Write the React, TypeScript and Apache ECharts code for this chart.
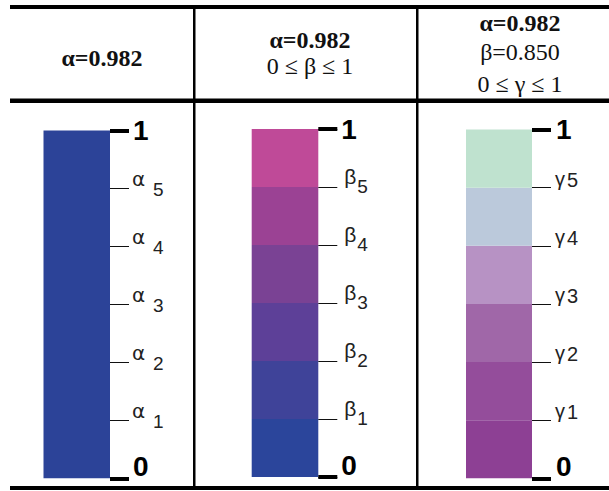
import React, { useEffect, useRef } from 'react';
import * as echarts from 'echarts';

// ---- header texts ----
const headerCol1 = ['α=0.982'];
const headerCol2 = ['α=0.982', '0 ≤ β ≤ 1'];
const headerCol3 = ['α=0.982', 'β=0.850', '0 ≤ γ ≤ 1'];

// ---- scale: 0..1 divided into six equal levels ----
const levelMax = 6;
const endLabels = ['0', '1'];

// ---- threshold symbols (bottom to top): letter + index ----
const alphaSymbols = ['α1', 'α2', 'α3', 'α4', 'α5'];
const betaSymbols = ['β1', 'β2', 'β3', 'β4', 'β5'];
const gammaSymbols = ['γ1', 'γ2', 'γ3', 'γ4', 'γ5'];

// ---- segment heights (in levels, bottom to top) ----
const alphaSegments = [6];
const betaSegments = [1, 1, 1, 1, 1, 1];
const gammaSegments = [1, 1, 1, 1, 1, 1];

// ---- segment colours (bottom to top) ----
const alphaColors = ['#2C4398'];
const betaColors = ['#2B459B', '#3F4399', '#5D4098', '#7A4294', '#9B4294', '#BF4A98'];
const gammaColors = ['#8D4094', '#944D9B', '#A067A8', '#B792C4', '#BBC9DB', '#BFE2CF'];

const SANS = 'Liberation Sans';
const SERIF = 'Liberation Serif';

// verticalAlign 'bottom' + lineHeight L puts the glyph centre L/2 above the tick,
// verticalAlign 'top' + lineHeight L puts it L/2 below.
const panels = [
  {
    left: 43.5, width: 66.5, top: 130.5, bottom: 478.3, segments: alphaSegments, colors: alphaColors, symbols: alphaSymbols,
    head: { family: 'DejaVu Sans', size: 20, margin: 22, va: 'bottom', lh: 19 },
    tail: { family: SANS, size: 19, margin: 43, va: 'top', lh: 2 },
    outerMargin: 23,
  },
  {
    left: 251.7, width: 66.6, top: 129, bottom: 477, segments: betaSegments, colors: betaColors, symbols: betaSymbols,
    head: { family: SANS, size: 21, margin: 26, va: 'bottom', lh: 21 },
    tail: { family: SANS, size: 19, margin: 39, va: 'bottom', lh: 2 },
    outerMargin: 23,
  },
  {
    left: 466, width: 66, top: 129.5, bottom: 478.3, segments: gammaSegments, colors: gammaColors, symbols: gammaSymbols,
    head: { family: SANS, size: 20, margin: 23, va: 'bottom', lh: 18 },
    tail: { family: SANS, size: 20, margin: 35, va: 'bottom', lh: 16 },
    outerMargin: 24,
  },
];

function symbolPart(symbols: string[], part: 'head' | 'tail') {
  return (value: number) => {
    const idx = Math.round(value) - 1;
    if (idx < 0 || idx >= symbols.length) return '';
    const sym = symbols[idx];
    return part === 'head' ? sym.slice(0, 1) : sym.slice(1);
  };
}

function buildOption() {
  const grid: any[] = [];
  const xAxis: any[] = [];
  const yAxis: any[] = [];
  const series: any[] = [];

  panels.forEach((p, i) => {
    grid.push({ left: p.left, width: p.width, top: p.top, height: p.bottom - p.top, containLabel: false, outerBoundsMode: 'none' });
    xAxis.push({ type: 'category', gridIndex: i, data: ['bar'], show: false, boundaryGap: true });
    const base = {
      type: 'value', gridIndex: i, position: 'right', min: 0, max: levelMax,
      axisLine: { show: false }, splitLine: { show: false },
    };
    // threshold ticks + letter
    yAxis.push({
      ...base, interval: 1,
      axisTick: { show: true, length: 19, lineStyle: { color: '#111', width: 1 } },
      axisLabel: {
        show: true, margin: p.head.margin, formatter: symbolPart(p.symbols, 'head'),
        fontFamily: p.head.family, fontSize: p.head.size, color: '#222',
        verticalAlign: p.head.va, lineHeight: p.head.lh,
      },
      z: 3,
    });
    // index (subscript)
    yAxis.push({
      ...base, interval: 1,
      axisTick: { show: false },
      axisLabel: {
        show: true, margin: p.tail.margin, formatter: symbolPart(p.symbols, 'tail'),
        fontFamily: p.tail.family, fontSize: p.tail.size, color: '#222',
        verticalAlign: p.tail.va, lineHeight: p.tail.lh,
      },
      z: 3,
    });
    // end ticks 0 and 1
    yAxis.push({
      ...base, interval: levelMax,
      axisTick: { show: true, length: 19, lineStyle: { color: '#000', width: 4 } },
      axisLabel: {
        show: true, margin: p.outerMargin,
        formatter: (value: number) => (value === levelMax ? `{one|${endLabels[1]}}` : value === 0 ? `{zero|${endLabels[0]}}` : ''),
        rich: {
          one: { fontFamily: SANS, fontSize: 28, fontWeight: 'bold', color: '#000', lineHeight: 28 },
          zero: { fontFamily: SANS, fontSize: 28, fontWeight: 'bold', color: '#000', lineHeight: 28, padding: [0, 0, 24, 0] },
        },
      },
      z: 4,
    });
    p.segments.forEach((v, k) => {
      series.push({
        type: 'bar', xAxisIndex: i, yAxisIndex: i * 3, stack: 'col' + i,
        barWidth: '100%', barCategoryGap: '0%',
        data: [v], itemStyle: { color: p.colors[k] }, silent: true,
      });
    });
  });

  const graphic: any[] = [];
  // table rules
  graphic.push({ type: 'rect', shape: { x: 10, y: 5, width: 599, height: 4 }, style: { fill: '#000' } });
  graphic.push({ type: 'rect', shape: { x: 10, y: 98.5, width: 599, height: 4.5 }, style: { fill: '#000' } });
  graphic.push({ type: 'rect', shape: { x: 10, y: 486, width: 599, height: 4 }, style: { fill: '#000' } });
  graphic.push({ type: 'rect', shape: { x: 193, y: 9, width: 2.5, height: 477 }, style: { fill: '#000' } });
  graphic.push({ type: 'rect', shape: { x: 416, y: 9, width: 2.5, height: 477 }, style: { fill: '#000' } });

  const headers = [
    { lines: headerCol1, x: 102, ys: [58] },
    { lines: headerCol2, x: 310, ys: [40, 66] },
    { lines: headerCol3, x: 520, ys: [23, 52, 84] },
  ];
  headers.forEach((h) => {
    h.lines.forEach((t, j) => {
      graphic.push({
        type: 'text', x: h.x, y: h.ys[j],
        style: {
          text: t, fill: '#111', fontFamily: SERIF, fontSize: 24,
          fontWeight: j === 0 ? 'bold' : 'normal', align: 'center', verticalAlign: 'middle',
        },
      });
    });
  });

  return { animation: false, backgroundColor: '#fff', grid, xAxis, yAxis, series, graphic };
}

export default function App() {
  const ref = useRef<HTMLDivElement>(null);
  useEffect(() => {
    if (!ref.current) return;
    const chart = echarts.init(ref.current, undefined, { renderer: 'svg' });
    chart.setOption(buildOption() as any);
    return () => chart.dispose();
  }, []);
  return <div ref={ref} style={{ position: 'fixed', left: 0, top: 0, width: 609, height: 491 }} />;
}
